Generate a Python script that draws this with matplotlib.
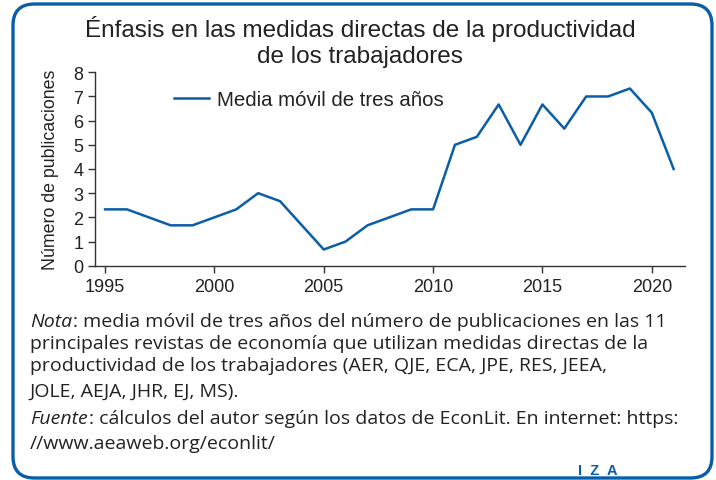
import matplotlib
matplotlib.use("Agg")
import matplotlib.pyplot as plt
from matplotlib.patches import FancyBboxPatch

years = list(range(1995, 2022))
values = [2.33, 2.33, 2.0, 1.67, 1.67, 2.0, 2.33, 3.0, 2.67, 1.67, 0.67, 1.0, 1.67,
          2.0, 2.33, 2.33, 5.0, 5.33, 6.67, 5.0, 6.67, 5.67, 7.0, 7.0, 7.33, 6.33, 4.0]
series_label = "Media móvil de tres años"
title_lines = ["Énfasis en las medidas directas de la productividad", "de los trabajadores"]
ylabel = "Número de publicaciones"
xticks = [1995, 2000, 2005, 2010, 2015, 2020]
yticks = list(range(0, 9))
note_label = "Nota"
note_lines = [": media móvil de tres años del número de publicaciones en las 11",
              "principales revistas de economía que utilizan medidas directas de la",
              "productividad de los trabajadores (AER, QJE, ECA, JPE, RES, JEEA,",
              "JOLE, AEJA, JHR, EJ, MS)."]
source_label = "Fuente"
source_lines = [": cálculos del autor según los datos de EconLit. En internet: https:",
                "//www.aeaweb.org/econlit/"]

BLUE = "#0a5ea8"
TXT = "#222222"
W, H = 716, 481
plt.rcParams['font.family'] = ['Liberation Sans', 'DejaVu Sans']

fig = plt.figure(figsize=(W/100, H/100), dpi=100)

def fx(px):
    return px / W

def fy(py):
    return 1 - py / H

# rounded border
bx0, by0, bx1, by1 = 13, 5, 712, 479
box = FancyBboxPatch((fx(bx0), fy(by1)), fx(bx1 - bx0), (by1 - by0) / H,
                     boxstyle="round,pad=0,rounding_size=0.03",
                     transform=fig.transFigure, fill=False,
                     edgecolor=BLUE, linewidth=2.4, mutation_aspect=W/H)
fig.patches.append(box)

ax = fig.add_axes([fx(95), fy(266.7), fx(685 - 95), (266.7 - 73.3) / H])
ax.plot(years, values, color=BLUE, linewidth=1.8, label=series_label)
ax.set_xlim(1994.54, 2021.52)
ax.set_ylim(0, 8)
ax.set_xticks(xticks)
ax.set_yticks(yticks)
for s in ["top", "right"]:
    ax.spines[s].set_visible(False)
for s in ["left", "bottom"]:
    ax.spines[s].set_color("#333333")
    ax.spines[s].set_linewidth(1.0)
ax.tick_params(axis="both", direction="out", length=5, width=1, colors="#333333",
               labelsize=13, labelcolor=TXT)
ax.tick_params(axis="x", pad=4)
ax.set_ylabel(ylabel, fontsize=12.8, color=TXT, labelpad=10)
leg = ax.legend(loc="center left", bbox_to_anchor=((175 - 95 - 7) / 590, (266.7 - 101) / 193.4),
                frameon=False, fontsize=14.7, handlelength=1.7, handletextpad=0.4,
                borderaxespad=0, borderpad=0.3)
for t in leg.get_texts():
    t.set_color(TXT)

for i, (line, base) in enumerate(zip(title_lines, [37, 63])):
    fig.text(0.5 + fx(2), fy(base), line, ha="center", va="baseline", fontsize=17.5, color=TXT)

BODY_FONT = ['Open Sans', 'DejaVu Sans']
fs = 14.0
x0 = 30
bases = [327, 349, 371, 397, 424, 449]
renderer = fig.canvas.get_renderer()

def labelled(label, rest, base):
    t = fig.text(fx(x0), fy(base), label, fontsize=fs, color=TXT, style="italic",
                 va="baseline", family=BODY_FONT)
    bb = t.get_window_extent(renderer)
    fig.text(bb.x1 / W + fx(1), fy(base), rest, fontsize=fs, color=TXT,
             va="baseline", family=BODY_FONT)

labelled(note_label, note_lines[0], bases[0])
for line, base in zip(note_lines[1:], bases[1:4]):
    fig.text(fx(x0), fy(base), line, fontsize=fs, color=TXT, va="baseline", family=BODY_FONT)
labelled(source_label, source_lines[0], bases[4])
fig.text(fx(x0), fy(bases[5]), source_lines[1], fontsize=fs, color=TXT, va="baseline",
         family=BODY_FONT)

fig.text(fx(598), fy(471), "I  Z  A", fontsize=10.5, color=BLUE, weight="bold",
         ha="center", va="center")

fig.savefig("out.png", dpi=100)
